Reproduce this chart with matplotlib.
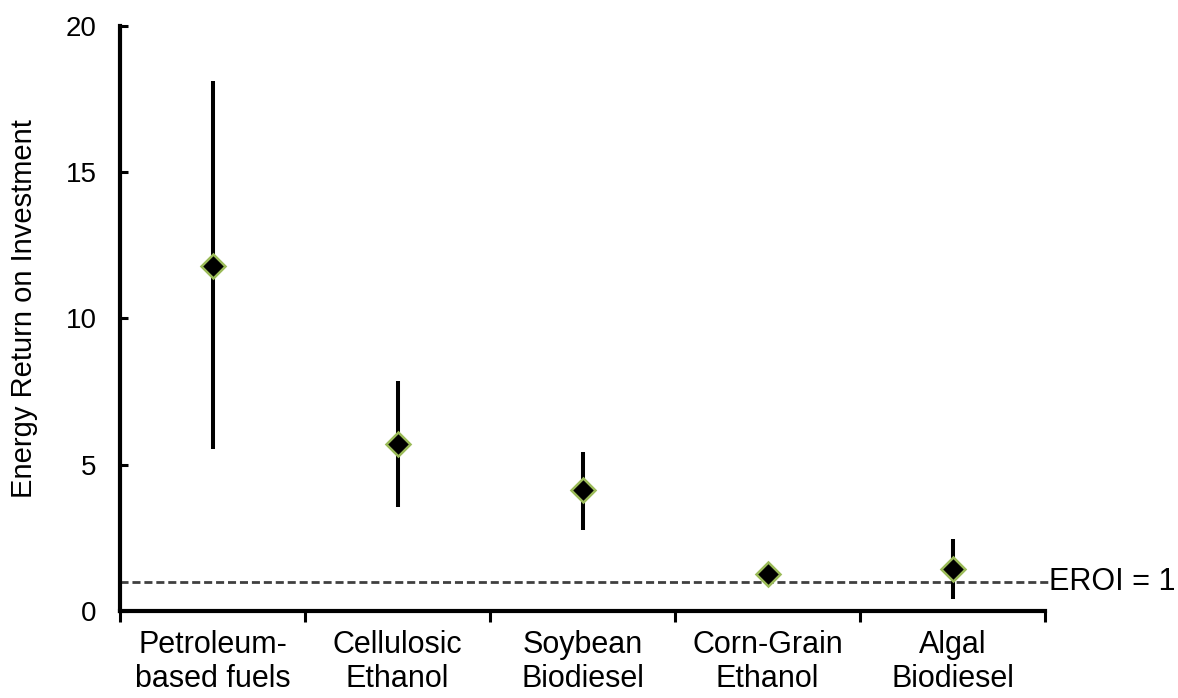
import matplotlib
matplotlib.use("Agg")
import matplotlib.pyplot as plt
import numpy as np

plt.rcParams['font.family'] = ['Liberation Sans', 'DejaVu Sans']

categories = ["Petroleum-\nbased fuels", "Cellulosic\nEthanol", "Soybean\nBiodiesel",
              "Corn-Grain\nEthanol", "Algal\nBiodiesel"]
eroi_mean = [11.8, 5.7, 4.12, 1.28, 1.45]
eroi_low = [5.53, 3.56, 2.77, 1.28, 0.42]
eroi_high = [18.1, 7.87, 5.44, 1.28, 2.46]
threshold = 1.0
threshold_label = "EROI = 1"
y_ticks = [0, 5, 10, 15, 20]

fig = plt.figure(figsize=(11.78, 6.98), dpi=100)
ax = fig.add_axes([120/1178, 87/698, 925/1178, 585.5/698])

x = np.arange(len(categories)) + 0.5
mean = np.array(eroi_mean)
lo = mean - np.array(eroi_low)
hi = np.array(eroi_high) - mean

ax.axhline(threshold, xmin=0, xmax=1.003, color='#404040', lw=2.0,
           dashes=(2.9, 1.4), clip_on=False, zorder=1)
ax.errorbar(x, mean, yerr=[lo, hi], fmt='none', ecolor='black', elinewidth=2.9,
            capsize=0, zorder=2)
ax.plot(x, mean, linestyle='none', marker='D', markersize=12.5,
        markerfacecolor='black', markeredgecolor='#9BBB59', markeredgewidth=1.8, zorder=3)
ax.text(5.02, threshold, threshold_label, ha='left', va='center', fontsize=22)

ax.set_xlim(0, len(categories))
ax.set_ylim(0, 20)
ax.set_yticks(y_ticks)
ax.set_xticks(np.arange(len(categories) + 1))
ax.set_xticklabels([])
ax.set_xticks(x, minor=True)
ax.set_xticklabels(categories, minor=True, fontsize=22, linespacing=1.15)
ax.tick_params(axis='x', which='minor', length=0, pad=14)
ax.tick_params(axis='x', which='major', direction='out', length=8, width=2.2)
ax.tick_params(axis='y', direction='in', length=6, width=2.2, labelsize=20, pad=17)
for s in ['top', 'right']:
    ax.spines[s].set_visible(False)
for s in ['left', 'bottom']:
    ax.spines[s].set_linewidth(3.0)
ax.set_ylabel("Energy Return on Investment", fontsize=21, labelpad=20)
ax.yaxis.set_label_coords(-0.089, 0.517)

fig.savefig("out.png", dpi=100)
